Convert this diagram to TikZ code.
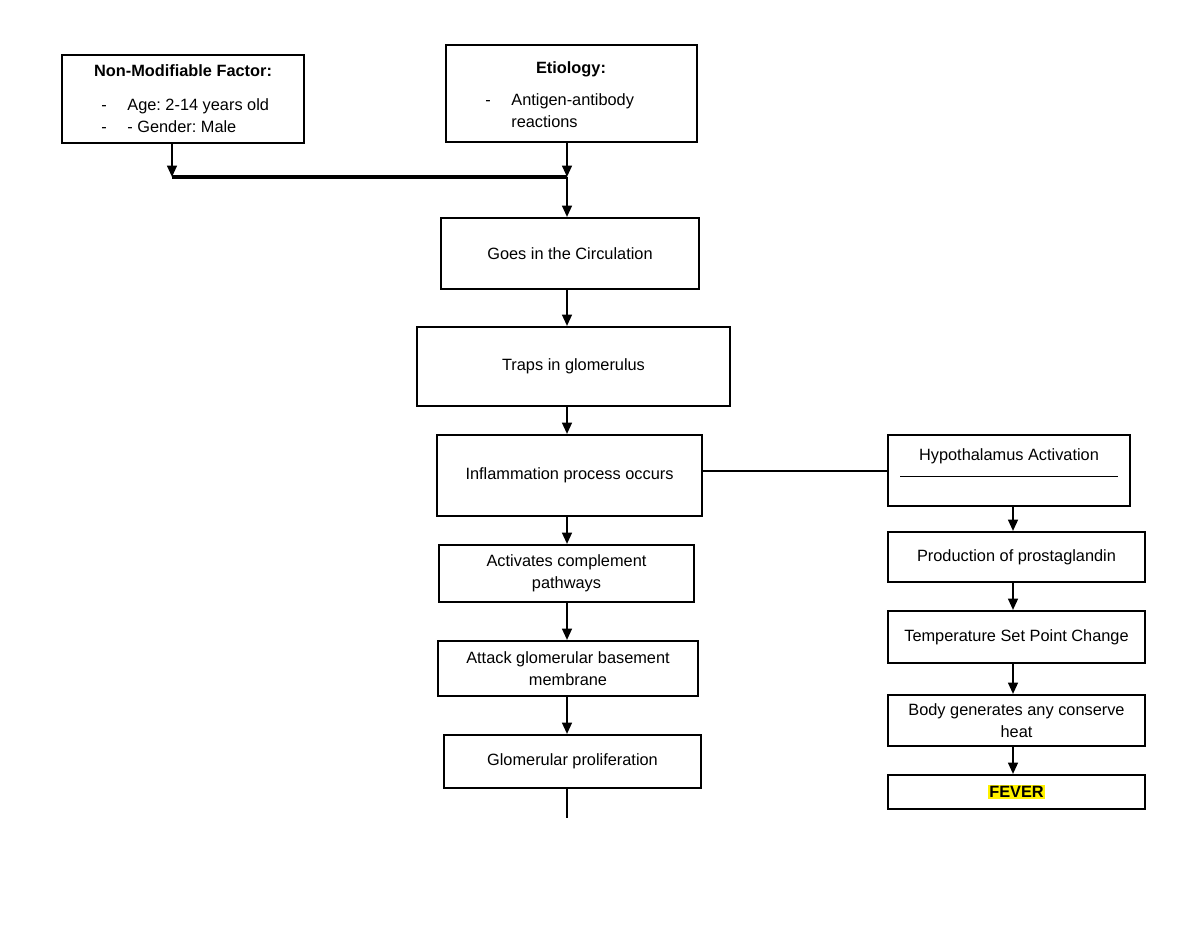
\documentclass[tikz,border=0pt]{standalone}
\usepackage{fontspec}
\setmainfont{Liberation Sans}
\usetikzlibrary{arrows.meta}
\frenchspacing

\begin{document}
\begin{tikzpicture}[x=0.02cm,y=-0.02cm,
        box/.style={draw,line width=1.1pt,inner sep=0pt,align=center,font=\fontsize{9.3}{12.5}\selectfont},
        txt/.style={inner sep=0pt,anchor=base west,font=\fontsize{9.3}{12.5}\selectfont},
        head/.style={inner sep=0pt,anchor=base,font=\fontsize{9.3}{12.5}\selectfont\bfseries},
        flow/.style={line width=1.3pt,-{Triangle[length=6.5pt,width=5.5pt]}},
        bar/.style={line width=1.3pt}]
    \useasboundingbox (0,0) rectangle (1200,927);
    \coordinate (spine) at (567,0);
    \coordinate (side) at (1013,0);

    % causes
    \node[box,minimum width=4.84cm,minimum height=1.76cm] (nonmod) at (183,99) {};
    \node[head] (nonmodtitle) at (183,76) {Non-Modifiable Factor:};
    \node[txt] (agedash) at (101,110) {-};
    \node[txt] (age) at (127,110) {Age: 2-14 years old};
    \node[txt] (genderdash) at (101,132) {-};
    \node[txt] (gender) at (127,132) {- Gender: Male};

    \node[box,minimum width=5.02cm,minimum height=1.94cm] (etio) at (571.5,93.5) {};
    \node[head] (etiotitle) at (571,73) {Etiology:};
    \node[txt] (agdash) at (485,105) {-};
    \node[txt] (ag) at (511,105) {Antigen-antibody};
    \node[txt] (agrest) at (511,127) {reactions};

    \coordinate (lft) at (172,177);
    \coordinate (join) at (567,177);
    \draw[flow] (nonmod.south -| lft) -- (lft);
    \draw[flow] (etio.south -| spine) -- (join);
    \draw[line width=1.8pt] (lft) -- (join);

    % main chain
    \node[box,minimum width=5.16cm,minimum height=1.42cm] (goes) at (570,253.5) {Goes in the Circulation};
    \node[box,minimum width=6.26cm,minimum height=1.58cm] (traps) at (573.5,366.5) {Traps in glomerulus};
    \node[box,minimum width=5.3cm,minimum height=1.62cm] (inflam) at (569.5,475.5) {Inflammation process occurs};
    \node[box,minimum width=5.1cm,minimum height=1.14cm] (compl) at (566.5,573.5) {Activates complement\\pathways};
    \node[box,minimum width=5.2cm,minimum height=1.1cm] (attack) at (568,668.5) {Attack glomerular basement\\membrane};
    \node[box,minimum width=5.14cm,minimum height=1.06cm] (prolif) at (572.5,761.5) {Glomerular proliferation};

    \draw[flow] (join) -- (goes.north -| spine);
    \draw[flow] (goes.south -| spine) -- (traps.north -| spine);
    \draw[flow] (traps.south -| spine) -- (inflam.north -| spine);
    \draw[flow] (inflam.south -| spine) -- (compl.north -| spine);
    \draw[flow] (compl.south -| spine) -- (attack.north -| spine);
    \draw[flow] (attack.south -| spine) -- (prolif.north -| spine);
    \coordinate (tail) at (567,818);
    \draw[bar] (prolif.south -| spine) -- (tail);

    % fever branch
    \node[box,minimum width=4.84cm,minimum height=1.42cm] (hypo) at (1009,470.5) {};
    \node[inner sep=0pt,anchor=north,align=center,font=\fontsize{9.3}{12.5}\selectfont] (hypotext) at (1009,448)
        {Hypothalamus Activation\\[-3pt]\rule{4.36cm}{0.6pt}};
    \node[box,minimum width=5.14cm,minimum height=1cm] (prosta) at (1016.5,557) {Production of prostaglandin};
    \node[box,minimum width=5.14cm,minimum height=1.04cm] (setpt) at (1016.5,637) {Temperature Set Point Change};
    \node[box,minimum width=5.14cm,minimum height=1.02cm] (heat) at (1016.5,720.5) {Body generates any conserve\\heat};
    \node[box,minimum width=5.14cm,minimum height=0.68cm] (fever) at (1016.5,792)
        {\setlength{\fboxsep}{0.6pt}\colorbox{yellow}{\bfseries FEVER}};

    \coordinate (tie) at (0,471);
    \draw[line width=0.8pt] (inflam.east |- tie) -- (hypo.west |- tie);
    \draw[flow] (hypo.south -| side) -- (prosta.north -| side);
    \draw[flow] (prosta.south -| side) -- (setpt.north -| side);
    \draw[flow] (setpt.south -| side) -- (heat.north -| side);
    \draw[flow] (heat.south -| side) -- (fever.north -| side);
\end{tikzpicture}
\end{document}
